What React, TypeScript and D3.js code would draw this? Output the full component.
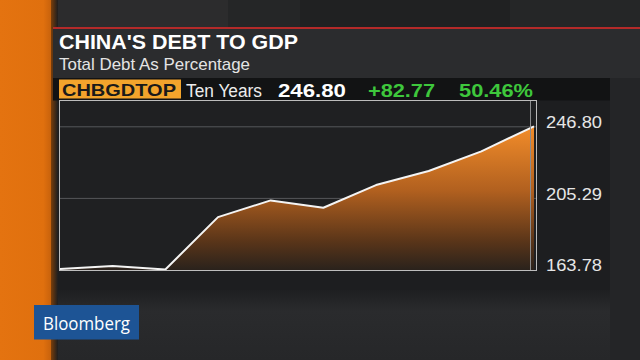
import React from "react";
import * as d3 from "d3";

const years = ["2006", "2007", "2008", "2009", "2010", "2011", "2012", "2013", "2014", "2015"];
const debtToGdp = [164.03, 165.8, 163.78, 194.14, 203.84, 199.6, 212.72, 220.85, 232.29, 246.8];
const axisTicks = [163.78, 205.29, 246.8];
const gridTicks = [205.29, 246.8];
const title = "CHINA'S DEBT TO GDP";
const subtitle = "Total Debt As Percentage";
const ticker = "CHBGDTOP";
const period = "Ten Years";
const lastValue = "246.80";
const netChange = "+82.77";
const pctChange = "50.46%";

const W = 640;
const H = 360;
const FONT = "'Liberation Sans', Arial, sans-serif";

export default function App() {
  const x = d3.scalePoint<string>().domain(years).range([60, 534]);
  const y = d3.scaleLinear().domain([163.78, 246.8]).range([269.5, 126.3]);
  const pts = years.map((yr, i) => ({ yr, v: debtToGdp[i] }));
  const line = d3
    .line<{ yr: string; v: number }>()
    .x((d) => x(d.yr) as number)
    .y((d) => y(d.v));
  const area = d3
    .area<{ yr: string; v: number }>()
    .x((d) => x(d.yr) as number)
    .y0(270)
    .y1((d) => y(d.v));

  return (
    <svg
      width={W}
      height={H}
      viewBox={`0 0 ${W} ${H}`}
      style={{ position: "absolute", left: 0, top: 0, display: "block" }}
      fontFamily={FONT}
    >
      <defs>
        <linearGradient id="fillG" x1="0" y1="126" x2="0" y2="270" gradientUnits="userSpaceOnUse">
          <stop offset="0" stopColor="#f38d2a" />
          <stop offset="0.45" stopColor="#b1601f" />
          <stop offset="0.8" stopColor="#5a3519" />
          <stop offset="1" stopColor="#2a221c" />
        </linearGradient>
        <linearGradient id="orangeG" x1="0" y1="0" x2="1" y2="0">
          <stop offset="0" stopColor="#e47310" />
          <stop offset="0.85" stopColor="#e0700e" />
          <stop offset="1" stopColor="#c8620c" />
        </linearGradient>
        <linearGradient id="shadowG" x1="0" y1="0" x2="1" y2="0">
          <stop offset="0" stopColor="#7a3e0a" />
          <stop offset="1" stopColor="#1d1e20" />
        </linearGradient>
        <linearGradient id="bottomBand" x1="0" y1="0" x2="0" y2="1">
          <stop offset="0" stopColor="#1e1f21" />
          <stop offset="0.3" stopColor="#2a2b2d" />
          <stop offset="1" stopColor="#262729" />
        </linearGradient>
      </defs>

      {/* background */}
      <rect x={0} y={0} width={W} height={H} fill="#1d1e20" />
      <rect x={0} y={0} width={W} height={28} fill="#252627" />
      <rect x={58} y={0} width={170} height={28} fill="#2c2c2d" />
      <rect x={300} y={0} width={210} height={28} fill="#202122" />
      <rect x={58} y={290} width={582} height={70} fill="url(#bottomBand)" />
      <rect x={610} y={78} width={30} height={282} fill="#242527" />

      {/* orange strip */}
      <rect x={0} y={0} width={51} height={H} fill="url(#orangeG)" />
      <rect x={51} y={0} width={7} height={H} fill="url(#shadowG)" />

      {/* title panel */}
      <rect x={53} y={27} width={587} height={2.2} fill="#b42a29" />
      <rect x={53} y={29} width={587} height={49} fill="#2b2c2e" />
      <text x={59} y={49.3} fontSize={20} fontWeight="bold" fill="#ffffff" textLength={239} lengthAdjust="spacingAndGlyphs">
        {title}
      </text>
      <text x={59} y={70} fontSize={17} fill="#e4e4e4" textLength={191} lengthAdjust="spacingAndGlyphs">
        {subtitle}
      </text>

      {/* ticker row */}
      <rect x={53} y={78} width={557} height={22.5} fill="#121314" />
      <rect x={59} y={79.5} width={122} height={19} fill="#f3a42c" />
      <text x={62} y={95.5} fontSize={17} fontWeight="bold" fill="#1a1a1a" textLength={114} lengthAdjust="spacingAndGlyphs">
        {ticker}
      </text>
      <text x={186} y={96.5} fontSize={18} fill="#ececec" textLength={76} lengthAdjust="spacingAndGlyphs">
        {period}
      </text>
      <text x={278} y={96.5} fontSize={19} fontWeight="bold" fill="#ffffff" textLength={68} lengthAdjust="spacingAndGlyphs">
        {lastValue}
      </text>
      <text x={368} y={96.5} fontSize={19} fontWeight="bold" fill="#3ec73c" textLength={67} lengthAdjust="spacingAndGlyphs">
        {netChange}
      </text>
      <text x={459} y={96.5} fontSize={19} fontWeight="bold" fill="#3ec73c" textLength={74} lengthAdjust="spacingAndGlyphs">
        {pctChange}
      </text>

      {/* plot */}
      <rect x={59.5} y={100.5} width={477} height={170} fill="#1f2022" />
      {gridTicks.map((t) => (
        <line key={t} x1={60} x2={536} y1={y(t) + 0.5} y2={y(t) + 0.5} stroke="#55575a" strokeWidth={1} />
      ))}
      <path d={area(pts) || ""} fill="url(#fillG)" />
      <path d={line(pts) || ""} fill="none" stroke="#f4f4f4" strokeWidth={2} strokeLinejoin="round" />
      <line x1={530.5} x2={530.5} y1={101} y2={270} stroke="#8a8b8d" strokeWidth={1} />
      <rect x={59.5} y={100.5} width={477} height={170} fill="none" stroke="#bdbdbd" strokeWidth={1} />

      {axisTicks.map((t) => (
        <text key={t} x={546} y={y(t) + 1.8} fontSize={16} fill="#e6e6e6" textLength={56} lengthAdjust="spacingAndGlyphs">
          {t.toFixed(2)}
        </text>
      ))}

      {/* logo */}
      <rect x={34} y={305} width={105} height={34.5} fill="#1d5495" />
      <text x={43} y={330} fontSize={19} fill="#ffffff" fontFamily="'Open Sans', 'Liberation Sans', sans-serif" textLength={87} lengthAdjust="spacingAndGlyphs">
        Bloomberg
      </text>
    </svg>
  );
}
